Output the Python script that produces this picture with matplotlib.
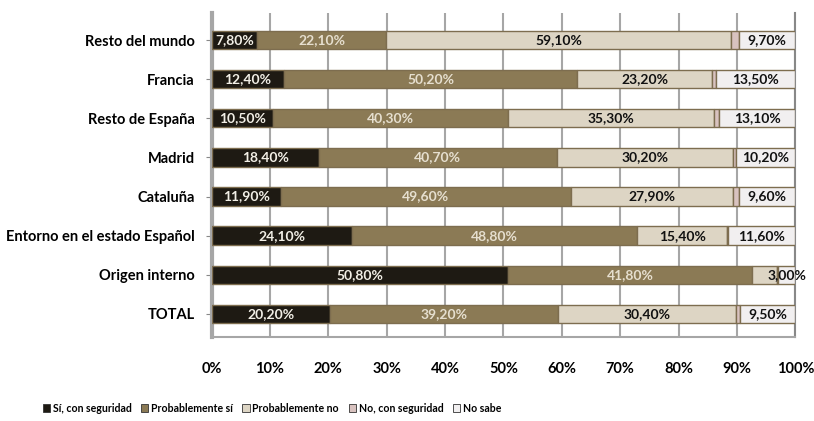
import matplotlib.pyplot as plt
import numpy as np

plt.rcParams['font.family'] = ['Lato', 'DejaVu Sans']

categories = ["TOTAL", "Origen interno", "Entorno en el estado Español", "Cataluña",
              "Madrid", "Resto de España", "Francia", "Resto del mundo"]

series_names = ["Sí, con seguridad", "Probablemente sí", "Probablemente no",
                "No, con seguridad", "No sabe"]

si_seguro = [20.2, 50.8, 24.1, 11.9, 18.4, 10.5, 12.4, 7.8]
prob_si = [39.2, 41.8, 48.8, 49.6, 40.7, 40.3, 50.2, 22.1]
prob_no = [30.4, 4.2, 15.4, 27.9, 30.2, 35.3, 23.2, 59.1]
no_seguro = [0.7, 0.2, 0.1, 1.0, 0.5, 0.8, 0.7, 1.3]
no_sabe = [9.5, 3.0, 11.6, 9.6, 10.2, 13.1, 13.5, 9.7]

colors = ["#1e1a13", "#8b7a55", "#ddd5c4", "#d8c2bf", "#f1eff0"]
text_colors = ["#f2efe6", "#e6dfcf", "#111111", "#111111", "#111111"]

# which segments carry a data label
show_label = [True, True, True, False, True]

fig = plt.figure(figsize=(8.14, 4.21), dpi=100)
ax = fig.add_axes([0.260, 0.1995, 0.717, 0.7695])

data = [si_seguro, prob_si, prob_no, no_seguro, no_sabe]
y = np.arange(len(categories))
left = np.zeros(len(categories))
for i, vals in enumerate(data):
    vals = np.array(vals)
    ax.barh(y, vals, left=left, height=0.47, color=colors[i],
            edgecolor="#7d6d4f", linewidth=1.0, label=series_names[i], zorder=3)
    if show_label[i]:
        for j, v in enumerate(vals):
            if i == 2 and categories[j] == "Origen interno":
                continue
            txt = f"{v:.2f}%".replace(".", ",")
            ax.text(left[j] + v / 2, y[j], txt, ha="center", va="center",
                    fontsize=10, fontweight="bold", color=text_colors[i], zorder=4)
    left += vals

ax.set_xlim(0, 100)
ax.set_ylim(-0.59, 7.69)
ax.set_xticks(np.arange(0, 101, 10))
ax.set_xticklabels([f"{t}%" for t in range(0, 101, 10)], fontsize=10.5, fontweight="bold")
ax.set_yticks(y)
ax.set_yticklabels(categories, fontsize=10.5, fontweight="bold")
ax.tick_params(axis="x", length=0, pad=18)
ax.tick_params(axis="y", length=4, color="#888888", pad=8)
ax.grid(axis="x", color="#a6a6a6", linewidth=1.5, zorder=0)

ax.spines["top"].set_visible(False)
ax.spines["left"].set_color("#a6a6a6")
ax.spines["left"].set_linewidth(3)
ax.spines["bottom"].set_color("#a6a6a6")
ax.spines["bottom"].set_linewidth(1.5)
ax.spines["right"].set_color("#888888")
ax.spines["right"].set_linewidth(1.5)

leg = fig.legend(loc="center", bbox_to_anchor=(0.334, 0.03), ncol=5, frameon=False,
                 prop={"weight": "bold", "size": 7.6}, handlelength=0.7,
                 handleheight=0.7, handletextpad=0.25, columnspacing=0.9)
for h in leg.legend_handles:
    h.set_edgecolor("#333333")
    h.set_linewidth(0.6)

fig.savefig("out.png", dpi=100)
